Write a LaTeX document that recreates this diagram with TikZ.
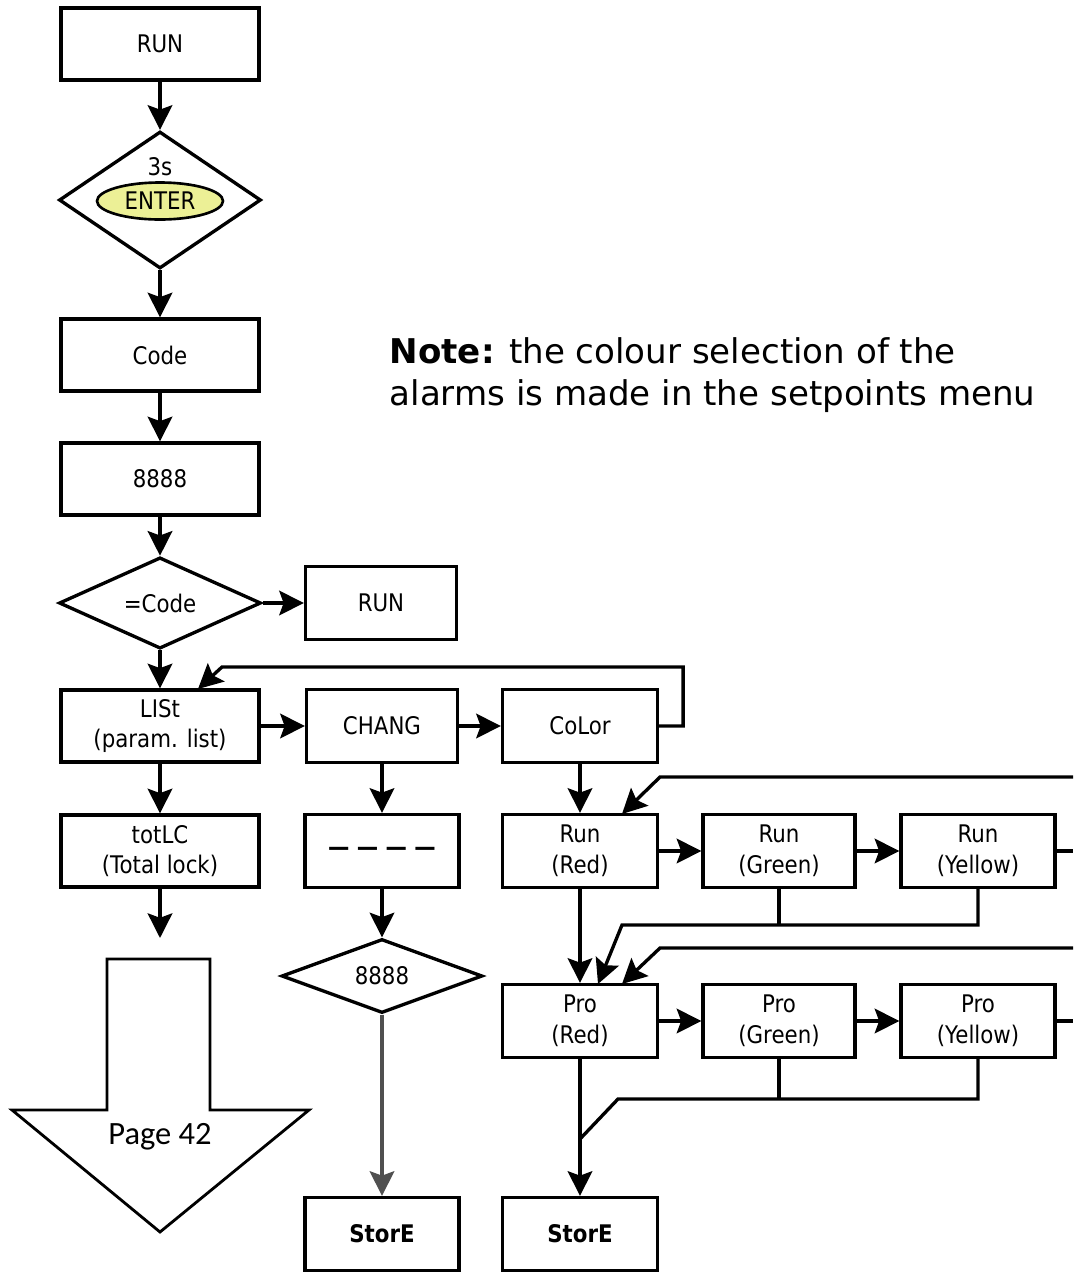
\documentclass[tikz,border=0pt]{standalone}
\usepackage{fontspec}
\setmainfont{DejaVu Sans}
\newfontfamily\boxfont{DejaVu Sans}[FakeStretch=0.88]
\newfontfamily\pagefont{Carlito}
\usetikzlibrary{arrows.meta,shapes.geometric,positioning}

\definecolor{enteryellow}{RGB}{236,240,150}
\definecolor{storegray}{RGB}{80,80,80}

\begin{document}
\begin{tikzpicture}[x=0.02cm, y=-0.02cm, line width=1.9pt, line join=miter,
		wide/.style={draw, rectangle, minimum width=3.96cm, minimum height=1.44cm, inner sep=0pt, align=center, font=\boxfont\fontsize{13.8}{17.5}\selectfont},
		box/.style={wide, minimum width=3.08cm, minimum height=1.46cm},
		decision/.style={draw, diamond, inner sep=0pt, font=\boxfont\fontsize{13.8}{17.5}\selectfont},
		flow/.style={-{Stealth[length=14pt, width=14pt, inset=2.5pt]}}]
		\useasboundingbox (0, 0) rectangle (1073, 1272);
		% left column
		\node [wide] (run) at (160, 44) {RUN};
		\node [decision, minimum width=4.04cm, minimum height=2.74cm] (hold) at (160, 200) {};
		\node [font=\boxfont\fontsize{13.8}{17.5}\selectfont, inner sep=0pt] (holdtime) at (160, 167) {3s};
		\node [draw, ellipse, fill=enteryellow, minimum width=2.52cm, minimum height=0.74cm, inner sep=0pt, line width=1.5pt, font=\boxfont\fontsize{13.8}{17.5}\selectfont] (enter) at (160, 201) {ENTER};
		\node [wide] (code) at (160, 355) {Code};
		\node [wide] (pin) at (160, 479) {8888};
		\node [decision, minimum width=4.04cm, minimum height=1.44cm] (check) at (160, 603) {=Code};
		\node [box, minimum width=3.02cm] (exit) at (381, 603) {RUN};
		\node [wide] (list) at (160, 726) {LISt\\(param. list)};
		\node [wide] (totlc) at (160, 851) {totLC\\(Total lock)};
		\draw [flow] (run) -- (hold);
		\draw [flow] (hold) -- (code);
		\draw [flow] (code) -- (pin);
		\draw [flow] (pin) -- (check);
		\draw [flow] (check) -- (exit);
		\draw [flow] (check) -- (list);
		\draw [flow] (list) -- (totlc);
		% jump to page 42
		\coordinate (pagein) at (160, 938);
		\draw [flow] (totlc) -- (pagein);
		\draw [line width=1.6pt] (107, 959) -- (210, 959) -- (210, 1110) -- (309, 1110) -- (160, 1232) -- (12, 1110) -- (107, 1110) -- cycle;
		\node [font=\pagefont\fontsize{18.5}{22}\selectfont, inner sep=0pt] (page) at (160, 1137) {Page 42};
		% note
		\node [anchor=north west, align=left, inner sep=0pt, font=\fontsize{19.4}{23.8}\selectfont] (note) at (388, 336) {\textbf{Note:} the colour selection of the\\alarms is made in the setpoints menu};
		% change code column
		\node [box, minimum width=3.02cm] (chang) at (382, 726) {CHANG};
		\node [box] (blank) at (382, 851) {\bfseries — — — —};
		\node [decision, minimum width=4.02cm, minimum height=1.48cm] (newpin) at (382, 976) {8888};
		\node [box, font=\boxfont\fontsize{13.8}{17.5}\selectfont\bfseries] (storea) at (382, 1234) {StorE};
		\draw [flow] (list) -- (chang);
		\draw [flow] (chang) -- (blank);
		\draw [flow] (blank) -- (newpin);
		\draw [flow, storegray] (newpin) -- (storea);
		% colour column
		\node [box, minimum width=3.1cm] (color) at (580, 726) {CoLor};
		\node [box, minimum width=3.1cm] (runred) at (580, 851) {Run\\(Red)};
		\node [box, minimum width=3.04cm] (rungreen) at (779, 851) {Run\\(Green)};
		\node [box] (runyellow) at (978, 851) {Run\\(Yellow)};
		\node [box, minimum width=3.1cm] (prored) at (580, 1021) {Pro\\(Red)};
		\node [box, minimum width=3.04cm] (progreen) at (779, 1021) {Pro\\(Green)};
		\node [box] (proyellow) at (978, 1021) {Pro\\(Yellow)};
		\node [box, minimum width=3.1cm, font=\boxfont\fontsize{13.8}{17.5}\selectfont\bfseries] (storeb) at (580, 1234) {StorE};
		\draw [flow] (chang) -- (color);
		\coordinate (loopturn) at (222, 667);
		\coordinate (listin) at (198, 689);
		\draw [flow] (color.east) -- ++(24, 0) |- (loopturn) -- (listin);
		\draw [flow] (color) -- (runred);
		\draw [flow] (runred) -- (rungreen);
		\draw [flow] (rungreen) -- (runyellow);
		\coordinate (runout) at (1073, 851);
		\draw (runyellow) -- (runout);
		\coordinate (runback) at (1073, 777);
		\coordinate (runbackturn) at (660, 777);
		\coordinate (runredin) at (622, 814);
		\draw [flow] (runback) -- (runbackturn) -- (runredin);
		% run row into pro row
		\draw [flow] (runred) -- (prored);
		\coordinate (runmerge) at (622, 925);
		\coordinate (proredmid) at (598, 984);
		\draw (rungreen.south) -- ++(0, 37);
		\draw [flow] (runyellow.south) |- (runmerge) -- (proredmid);
		\coordinate (proback) at (1073, 948);
		\coordinate (probackturn) at (660, 948);
		\coordinate (proredin) at (622, 984);
		\draw [flow] (proback) -- (probackturn) -- (proredin);
		\draw [flow] (prored) -- (progreen);
		\draw [flow] (progreen) -- (proyellow);
		\coordinate (proout) at (1073, 1021);
		\draw (proyellow) -- (proout);
		% pro row into store
		\coordinate (promerge) at (618, 1099);
		\coordinate (projoin) at (580, 1139);
		\draw (progreen.south) -- ++(0, 41);
		\draw (proyellow.south) |- (promerge) -- (projoin);
		\draw [flow] (prored) -- (storeb);
	\end{tikzpicture}
\end{document}
